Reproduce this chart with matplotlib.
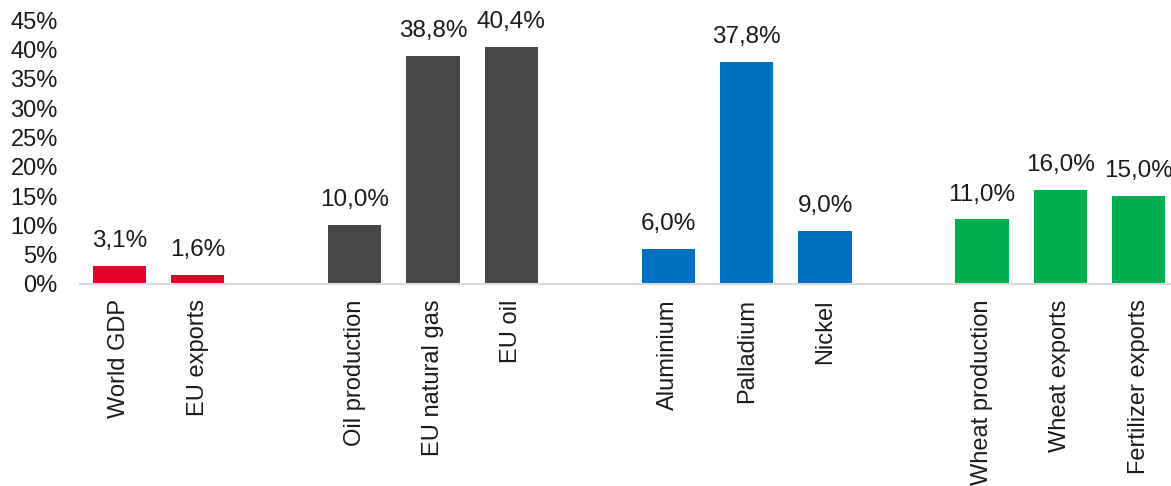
import matplotlib.pyplot as plt
import numpy as np

plt.rcParams['font.family'] = ['Liberation Sans', 'DejaVu Sans']

# categories, with empty slots between the groups
categories = ['World GDP', 'EU exports', '',
              'Oil production', 'EU natural gas', 'EU oil', '',
              'Aluminium', 'Palladium', 'Nickel', '',
              'Wheat production', 'Wheat exports', 'Fertilizer exports']
values = [3.1, 1.6, None,
          10.0, 38.8, 40.4, None,
          6.0, 37.8, 9.0, None,
          11.0, 16.0, 15.0]
groups = ['red', 'red', None,
          'grey', 'grey', 'grey', None,
          'blue', 'blue', 'blue', None,
          'green', 'green', 'green']
palette = {'red': '#E4002B', 'grey': '#464646', 'blue': '#0070C0', 'green': '#00B050'}
yticks = [0, 5, 10, 15, 20, 25, 30, 35, 40, 45]

fig = plt.figure(figsize=(11.71, 4.86), dpi=100)
ax = fig.add_axes([80 / 1171, 202 / 486, 1098 / 1171, 264 / 486])

x = np.arange(len(categories))
for xi, v, g in zip(x, values, groups):
    if v is None:
        continue
    ax.bar(xi, v, width=0.68, color=palette[g])
    ax.annotate(('%.1f%%' % v).replace('.', ','), (xi, v), xytext=(0, 10),
                textcoords='offset points', ha='center', va='bottom',
                fontsize=17.5, color='#1a1a1a')

ax.set_xlim(-0.5, len(categories) - 0.5)
ax.set_ylim(0, 45)
ax.set_yticks(yticks)
ax.set_yticklabels(['%d%%' % t for t in yticks], fontsize=17, color='#1a1a1a')
ax.set_xticks(x)
ax.set_xticklabels(categories, rotation=90, fontsize=17, color='#1a1a1a')
ax.tick_params(axis='y', length=0, pad=16)
ax.tick_params(axis='x', length=0, pad=11)

for s in ['top', 'right', 'left']:
    ax.spines[s].set_visible(False)
ax.spines['bottom'].set_color('#D9D9D9')
ax.spines['bottom'].set_linewidth(1.5)

fig.savefig('out.png', dpi=100)
